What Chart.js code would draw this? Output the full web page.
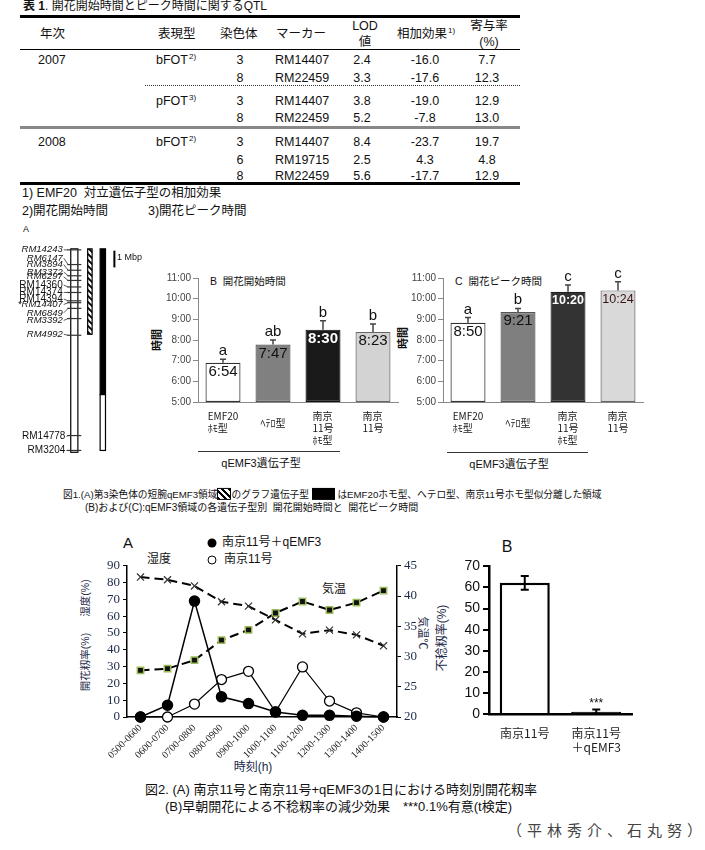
<!DOCTYPE html>
<html><head><meta charset="utf-8">
<script src="https://cdn.jsdelivr.net/npm/chart.js"></script>
<style>
body{margin:0;width:705px;height:850px;background:#fff;position:relative;overflow:hidden;font-family:"Liberation Sans","Noto Sans CJK JP",sans-serif;color:#111}
.t{position:absolute;white-space:nowrap;line-height:1.15}
.ln{position:absolute}
sup{font-size:8px;position:relative;top:-5px;vertical-align:baseline;margin-left:1px}
.hatch{display:inline-block;width:14px;height:12px;border:1px solid #000;box-sizing:border-box;vertical-align:-2px;background:repeating-linear-gradient(45deg,#000 0 2px,#fff 2px 4.5px)}
.blk{display:inline-block;width:23px;height:12px;background:#000;vertical-align:-2px}
.dot{position:absolute;width:9px;height:9px;border-radius:50%;box-sizing:border-box;transform:translate(-50%,-50%)}
</style></head>
<body>
<script>
// ---------- data ----------
const tblYear   = ['2007','','','','2008','',''];
const tblTrait  = ['bFOT<sup>2)</sup>','','pFOT<sup>3)</sup>','','bFOT<sup>2)</sup>','',''];
const tblChrom  = ['3','8','3','8','3','6','8'];
const tblMarker = ['RM14407','RM22459','RM14407','RM22459','RM14407','RM19715','RM22459'];
const tblLOD    = ['2.4','3.3','3.8','5.2','8.4','2.5','5.6'];
const tblAdd    = ['-16.0','-17.6','-19.0','-7.8','-23.7','4.3','-17.7'];
const tblR2     = ['7.7','12.3','12.9','13.0','19.7','4.8','12.9'];

const mapMarkers = ['RM14243','RM6147','RM3894','RM3372','RM6297','RM14360','RM14374','RM14394','*RM14407','RM6849','RM3392','RM4992','RM14778','RM3204'];
const mapTickMbp = [0.06,0.94,1.28,1.61,1.89,2.28,2.61,3.11,3.22,3.56,4.17,5.17,11.17,12.06];
const mapLabelMbp= [0.06,0.56,0.94,1.39,1.67,2.17,2.61,3.00,3.33,3.83,4.28,5.11,11.22,12.06];
const mapItalic  = [1,1,1,1,1,0,0,0,1,1,1,1,0,0];
const chromLen = 12.17, hatchRegion = [0,5.11], blackRegion = [0,8.72], whiteRegion = [8.72,12.06];

const genoCats = ['EMF20\nﾎﾓ型','ﾍﾃﾛ型','南京\n11号\nﾎﾓ型','南京\n11号'];
const timeTicks = [5,6,7,8,9,10,11];
const bfotTimes = ['6:54','7:47','8:30','8:23'];
const bfotErr   = [0.17,0.22,0.43,0.39];
const bfotLetters = ['a','ab','b','b'];
const pfotTimes = ['8:50','9:21','10:20','10:24'];
const pfotErr   = [0.25,0.18,0.33,0.42];
const pfotLetters = ['a','b','c','c'];

const timeSlots = ['0500-0600','0600-0700','0700-0800','0800-0900','0900-1000','1000-1100','1100-1200','1200-1300','1300-1400','1400-1500'];
const rateQ    = [0,7,69,12,8,3,1,1,0.5,0];
const rateN    = [0,0,7.7,22.3,27.2,3.1,29.8,9.5,2.5,0];
const humidity = [83.3,81.7,78,68.6,66,57.8,49.5,51.7,48.9,42.4];
const temperature = [27.7,28.0,29.4,32.7,34.4,37.2,39.1,37.7,38.9,40.9];

const sterCats = ['南京11号',['南京11号','＋qEMF3']];
const sterility = [62.2,1.1];
const sterErr = [3.3,1.0];

// ---------- helpers ----------
function put(html,x,y,o={}){
  const d=document.createElement('div');d.className='t';d.innerHTML=html;const s=d.style;
  s.left=x+'px';s.top=y+'px';s.fontSize=(o.size||12)+'px';
  if(o.weight)s.fontWeight=o.weight;if(o.color)s.color=o.color;if(o.font)s.fontFamily=o.font;if(o.ls)s.letterSpacing=o.ls+'px';
  const tx=o.rot?'-50%':(o.align==='c'?'-50%':o.align==='r'?'-100%':'0');
  s.transform=`translate(${tx},-50%)`+(o.rot?` rotate(${o.rot}deg)`:'');
  document.body.appendChild(d);
}
function line(x,y,w,h,css){const d=document.createElement('div');d.className='ln';d.style.cssText+=`left:${x}px;top:${y}px;width:${w}px;height:${h}px;`+css;document.body.appendChild(d);}
function mk(x,y,w,h){const c=document.createElement('canvas');c.width=w;c.height=h;c.style.cssText=`position:absolute;left:${x}px;top:${y}px;width:${w}px;height:${h}px`;document.body.appendChild(c);return c;}
const toH=t=>{const [h,m]=t.split(':');return +h + (+m)/60;};

// ---------- table ----------
put('<b>表 1</b>.&nbsp;開花開始時間とピーク時間に関するQTL',23,7,{size:12});
line(20,15,500,2.5,'background:#000');
line(20,48.5,500,1.5,'background:#000');
line(145,85,375,0,'border-top:1px dotted #333');
line(20,126,500,2.5,'background:#888');
line(20,182,500,2.5,'background:#000');
const H=12.5;
put('年次',40,34,{size:H});put('表現型',158,34,{size:H});put('染色体',220,34,{size:H});put('マーカー',276,34,{size:H});
put('LOD',365,26,{size:H,align:'c'});put('値',365,42,{size:H,align:'c'});
put('相加効果<sup>1)</sup>',397,34,{size:H});
put('寄与率',489,26,{size:H,align:'c'});put('(%)',489,42,{size:H,align:'c'});
const rowY=[60,78,101,118,142,160,176];
rowY.forEach((y,i)=>{
  if(tblYear[i])put(tblYear[i],38,y,{size:H});
  if(tblTrait[i])put(tblTrait[i],156,y,{size:H});
  put(tblChrom[i],240,y,{size:H,align:'c'});
  put(tblMarker[i],275,y,{size:H});
  put(tblLOD[i],362,y,{size:H,align:'c'});
  put(tblAdd[i],425,y,{size:H,align:'c'});
  put(tblR2[i],487,y,{size:H,align:'c'});
});
put('1) EMF20&nbsp;&nbsp;対立遺伝子型の相加効果',22,193,{size:H});
put('2)開花開始時間',22,211,{size:H});
put('3)開花ピーク時間',148,211,{size:H});

// ---------- figure 1 texts ----------
put('A',23,229,{size:9});
put('時間',157,340,{size:11,weight:700,rot:-90});
put('時間',403,338,{size:11,weight:700,rot:-90});
put('B&nbsp;&nbsp;開花開始時間',210,281,{size:10.5});
put('C&nbsp;&nbsp;開花ピーク時間',455,281,{size:10.5});
line(198,451,142,1,'background:#333');
line(447,452,141,1,'background:#333');
put('qEMF3遺伝子型',261,463,{size:11,align:'c'});
put('qEMF3遺伝子型',509,464,{size:11,align:'c'});
put('図1.(A)第3染色体の短腕qEMF3領域<span class="hatch"></span>のグラフ遺伝子型&nbsp;<span class="blk"></span>&nbsp;はEMF20ホモ型、ヘテロ型、南京11号ホモ型似分離した領域',63,494,{size:9.7});
put('(B)および(C):qEMF3領域の各遺伝子型別&nbsp;&nbsp;開花開始時間と&nbsp;&nbsp;開花ピーク時間',85,508,{size:10});

// ---------- figure 2 texts ----------
put('A',123,543,{size:15});
let d1=document.createElement('div');d1.className='dot';d1.style.cssText+='left:212px;top:543px;background:#000';document.body.appendChild(d1);
let d2=document.createElement('div');d2.className='dot';d2.style.cssText+='left:212px;top:560px;border:1.3px solid #000;background:#fff';document.body.appendChild(d2);
put('南京11号＋qEMF3',222,543,{size:12});
put('南京11号',224,560,{size:12});
put('湿度',147,560,{size:12});
put('気温',322,590,{size:12});
put('湿度(%)',85,598,{size:10.5,rot:-90,color:'#1c2a48'});
put('開花籾率(%)',85,662,{size:10.5,rot:-90,color:'#1c2a48'});
put('気温℃',423,633,{size:11,rot:90,color:'#1c2a48'});
put('時刻(h)',253,768,{size:12,align:'c',color:'#1c2a48'});
put('B',507,547,{size:16,align:'c'});
put('不稔籾率(%)',443,638,{size:12,rot:-90,color:'#1c2a48'});
put('図2. (A) 南京11号と南京11号+qEMF3の1日における時刻別開花籾率',145,790,{size:13});
put('(B)早朝開花による不稔籾率の減少効果　***0.1%有意(t検定)',165,807,{size:13});
put('（平林秀介、石丸努）',507,831,{size:15,ls:5,color:'#444'});

// ---------- charts ----------
Chart.defaults.font.family='"Liberation Sans","Noto Sans CJK JP",sans-serif';
Chart.defaults.animation=false;

// chromosome map
(function(){
  const c=mk(10,236,150,230);
  const pat=(()=>{const p=document.createElement('canvas');p.width=6;p.height=6;const g=p.getContext('2d');g.fillStyle='#fff';g.fillRect(0,0,6,6);g.strokeStyle='#000';g.lineWidth=1.8;g.beginPath();g.moveTo(-1,-1);g.lineTo(7,7);g.moveTo(5,-1);g.lineTo(7,1);g.moveTo(-1,5);g.lineTo(1,7);g.stroke();return p;})();
  const mapPlugin={id:'map',
    beforeDatasetsDraw(ch){
      const {ctx,scales:{x,y}}=ch;ctx.save();
      const rect=(x0,x1,a,b,fill)=>{const X0=x.getPixelForValue(x0),X1=x.getPixelForValue(x1),Y0=y.getPixelForValue(a),Y1=y.getPixelForValue(b);ctx.fillStyle=fill;ctx.fillRect(X0,Y0,X1-X0,Y1-Y0);ctx.strokeRect(X0,Y0,X1-X0,Y1-Y0);};
      ctx.strokeStyle='#000';ctx.lineWidth=1.2;
      rect(59,67,0,chromLen,'#fff');
      rect(78,83,hatchRegion[0],hatchRegion[1],ctx.createPattern(pat,'repeat'));
      rect(92,98,blackRegion[0],blackRegion[1],'#000');
      rect(92,98,whiteRegion[0],whiteRegion[1],'#fff');
      ctx.lineWidth=2;ctx.beginPath();ctx.moveTo(x.getPixelForValue(108),y.getPixelForValue(0.11));ctx.lineTo(x.getPixelForValue(108),y.getPixelForValue(1.11));ctx.stroke();
      ctx.fillStyle='#111';ctx.font='9px "Liberation Sans"';ctx.textBaseline='middle';ctx.fillText('1 Mbp',x.getPixelForValue(111),y.getPixelForValue(0.5));
      ctx.restore();
    },
    afterDatasetsDraw(ch){
      const {ctx,scales:{x,y}}=ch;ctx.save();
      mapMarkers.forEach((m,i)=>{
        const ly=y.getPixelForValue(mapLabelMbp[i]),ty=y.getPixelForValue(mapTickMbp[i]);
        const far=i>=12;
        ctx.font=(mapItalic[i]?'italic 9.5px':'10px')+' "Liberation Sans"';
        ctx.fillStyle='#111';ctx.textAlign='right';ctx.textBaseline='middle';
        const lx=x.getPixelForValue(far?53:50);
        ctx.fillText(m,lx,ly);
        ctx.strokeStyle='#333';ctx.lineWidth=0.8;ctx.beginPath();ctx.moveTo(lx+1,ly);ctx.lineTo(x.getPixelForValue(56),ty);ctx.stroke();
      });
      ctx.restore();
    }};
  new Chart(c,{type:'scatter',data:{datasets:[{data:mapTickMbp.map(p=>({x:63,y:p})),pointStyle:'line',pointRadius:7,borderColor:'#333',borderWidth:1.2,clip:false}]},
    options:{responsive:false,devicePixelRatio:1,layout:{padding:0},plugins:{legend:{display:false},tooltip:{enabled:false}},
      scales:{x:{type:'linear',min:0,max:150,display:false},y:{type:'linear',min:-0.278,max:12.5,reverse:true,display:false}}},
    plugins:[mapPlugin]});
})();

const barDecor={id:'barDecor',
  afterDatasetsDraw(ch,args,o){
    const {ctx}=ch;const ys=ch.scales.y;const meta=ch.getDatasetMeta(0);
    meta.data.forEach((bar,i)=>{
      const v=o.values[i],top=ys.getPixelForValue(v),et=ys.getPixelForValue(v+o.errs[i]);
      ctx.save();ctx.strokeStyle='#444';ctx.lineWidth=1.5;
      ctx.beginPath();ctx.moveTo(bar.x,top);ctx.lineTo(bar.x,et);ctx.moveTo(bar.x-3,et);ctx.lineTo(bar.x+3,et);ctx.stroke();
      ctx.fillStyle='#111';ctx.font='15px "Liberation Sans"';ctx.textAlign='center';ctx.textBaseline='alphabetic';
      ctx.fillText(o.letters[i],bar.x,et-4);
      const txt=o.texts[i];const fs=txt.length>4?12.5:15;
      ctx.font=(o.bold[i]?'bold ':'')+fs+'px "Liberation Sans"';ctx.fillStyle=o.textColors[i];ctx.textBaseline='middle';
      ctx.fillText(txt,bar.x,top+9);
      const lines=o.cats[i].split('\n');ctx.font='10px "Noto Sans CJK JP"';ctx.fillStyle='#1a1a1a';ctx.textAlign='left';
      const w=Math.max(...lines.map(l=>ctx.measureText(l).width));
      const y0=ch.chartArea.bottom+14+(lines.length===1?7:0);
      lines.forEach((l,k)=>ctx.fillText(l,bar.x-w/2,y0+k*12));
      ctx.restore();
    });
  }};

function timeChart(x,times,errs,letters,bg,bd,tc,bold){
  const c=mk(x,268,255,200);const vals=times.map(toH);
  new Chart(c,{type:'bar',
    data:{labels:genoCats,datasets:[{data:vals.map(v=>[timeTicks[0],v]),backgroundColor:bg,borderColor:bd,borderWidth:1.2,borderSkipped:false,barPercentage:0.7,categoryPercentage:1}]},
    options:{responsive:false,devicePixelRatio:1,layout:{padding:{left:0,right:7,top:10,bottom:0}},
      plugins:{legend:{display:false},tooltip:{enabled:false},
        barDecor:{values:vals,errs,letters,texts:times,textColors:tc,bold,cats:genoCats}},
      scales:{
        x:{grid:{display:false,drawTicks:false},border:{color:'#888'},ticks:{display:false},afterFit:s=>{s.height=66;}},
        y:{min:timeTicks[0],max:timeTicks[timeTicks.length-1],afterBuildTicks:s=>{s.ticks=timeTicks.map(v=>({value:v}));},
          ticks:{autoSkip:false,callback:v=>v+':00',font:{size:10,family:'"Liberation Sans"'},color:'#444',padding:2},
          grid:{drawOnChartArea:false,tickLength:5,color:'#888'},border:{color:'#888'},afterFit:s=>{s.width=48;}}
      }},
    plugins:[barDecor]});
}
timeChart(150,bfotTimes,bfotErr,bfotLetters,['#ffffff','#808080','#1a1a1a','#d3d3d3'],['#333','#555','#111','#666'],['#111','#111','#fff','#111'],[false,false,true,false]);
timeChart(395,pfotTimes,pfotErr,pfotLetters,['#ffffff','#7f7f7f','#333333','#d9d9d9'],['#333','#555','#222','#666'],['#111','#111','#fff','#3a1515'],[false,false,true,false]);

// Fig 2A
(function(){
  const c=mk(60,555,370,230);
  const tickFont={family:'"Liberation Serif"',size:13};
  new Chart(c,{type:'line',
    data:{labels:timeSlots,datasets:[
      {data:rateQ,yAxisID:'y',borderColor:'#000',borderWidth:1.5,pointStyle:'circle',pointRadius:5,pointBackgroundColor:'#000',pointBorderColor:'#000',tension:0,clip:false},
      {data:rateN,yAxisID:'y',borderColor:'#000',borderWidth:1.2,pointStyle:'circle',pointRadius:5,pointBackgroundColor:'#fff',pointBorderColor:'#000',pointBorderWidth:1.3,tension:0,clip:false},
      {data:humidity,yAxisID:'y',borderColor:'#000',borderWidth:2,borderDash:[9,5],pointStyle:'crossRot',pointRadius:5,pointBorderColor:'#333',pointBorderWidth:1.2,tension:0,clip:false},
      {data:temperature,yAxisID:'y2',borderColor:'#000',borderWidth:2,borderDash:[9,5],pointStyle:'rect',pointRadius:4.5,pointBackgroundColor:'#111',pointBorderColor:'#9bbb59',pointBorderWidth:1.5,tension:0,clip:false}
    ]},
    options:{responsive:false,devicePixelRatio:1,layout:{padding:{left:0,right:0,top:10,bottom:0}},
      plugins:{legend:{display:false},tooltip:{enabled:false}},
      scales:{
        x:{type:'category',offset:true,grid:{display:false,drawTicks:false},border:{color:'#000',width:1.5},
          ticks:{minRotation:45,maxRotation:45,autoSkip:false,font:{family:'"Liberation Serif"',size:10},color:'#222',padding:5},afterFit:s=>{s.height=68;}},
        y:{position:'left',min:0,max:90,ticks:{stepSize:10,autoSkip:false,font:tickFont,color:'#1c2a48',padding:3},grid:{drawOnChartArea:false,tickLength:4,color:'#000'},border:{color:'#000',width:1.5},afterFit:s=>{s.width=67;}},
        y2:{position:'right',min:20,max:45,ticks:{stepSize:5,autoSkip:false,font:tickFont,color:'#1c2a48',padding:3},grid:{drawOnChartArea:false,tickLength:4,color:'#000'},border:{color:'#000',width:1.5},afterFit:s=>{s.width=33;}}
      }}});
})();

// Fig 2B
(function(){
  const c=mk(435,555,205,205);
  const errPlugin={id:'err',afterDatasetsDraw(ch){
    const {ctx}=ch;const ys=ch.scales.y;const meta=ch.getDatasetMeta(0);
    ctx.save();ctx.strokeStyle='#000';ctx.lineWidth=2;
    meta.data.forEach((bar,i)=>{
      const hi=ys.getPixelForValue(sterility[i]+sterErr[i]),lo=ys.getPixelForValue(sterility[i]-sterErr[i]);
      ctx.beginPath();ctx.moveTo(bar.x,hi);ctx.lineTo(bar.x,lo);ctx.moveTo(bar.x-4,hi);ctx.lineTo(bar.x+4,hi);ctx.moveTo(bar.x-4,lo);ctx.lineTo(bar.x+4,lo);ctx.stroke();
      if(i===1){ctx.fillStyle='#111';ctx.font='12px "Liberation Sans"';ctx.textAlign='center';ctx.textBaseline='alphabetic';ctx.fillText('***',bar.x,hi-2.5);}
    });
    ctx.restore();}};
  new Chart(c,{type:'bar',
    data:{labels:sterCats,datasets:[{data:sterility,backgroundColor:['#fff','#000'],borderColor:'#000',borderWidth:2.5,borderSkipped:'start',barPercentage:0.7,categoryPercentage:1}]},
    options:{responsive:false,devicePixelRatio:1,layout:{padding:{left:0,right:8,top:8,bottom:0}},
      plugins:{legend:{display:false},tooltip:{enabled:false}},
      scales:{
        x:{grid:{display:false,drawTicks:false},border:{color:'#000',width:2.5},ticks:{font:{family:'"Noto Sans CJK JP"',size:12},color:'#222',padding:12},afterFit:s=>{s.height=46;}},
        y:{min:0,max:70,ticks:{stepSize:10,autoSkip:false,font:{family:'"Liberation Sans"',size:14},color:'#111',padding:3},grid:{drawOnChartArea:false,tickLength:6,lineWidth:2,color:'#000'},border:{color:'#000',width:2.5},afterFit:s=>{s.width=54;}}
      }},
    plugins:[errPlugin]});
})();
</script>
</body></html>
